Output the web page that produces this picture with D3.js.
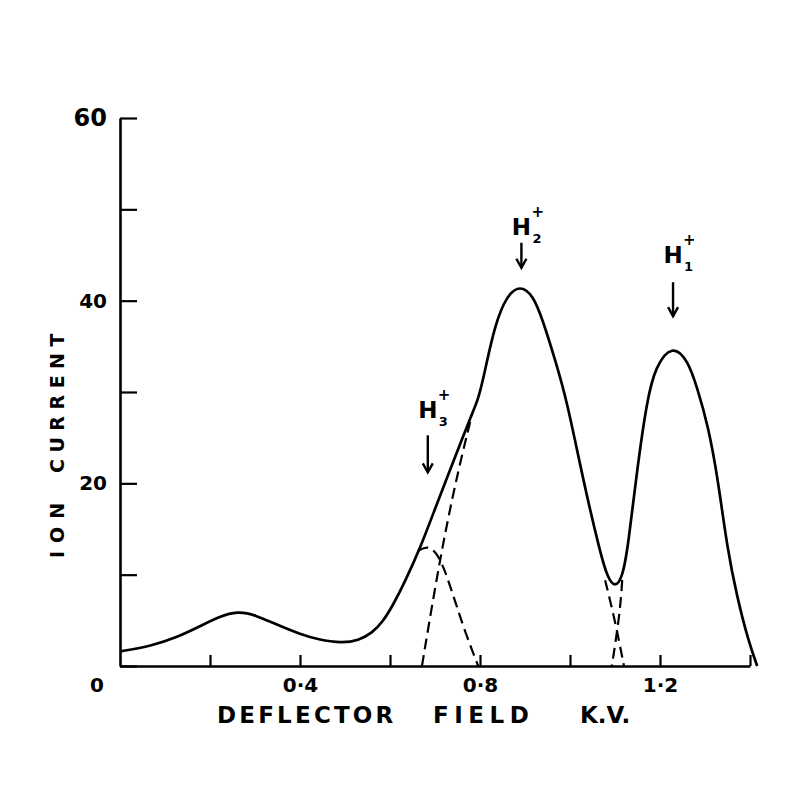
<!DOCTYPE html>
<html>
<head>
<meta charset="utf-8">
<script src="https://d3js.org/d3.v7.min.js"></script>
<style>
  body { margin: 0; background: #fff; }
  text { font-family: "DejaVu Sans", sans-serif; font-weight: bold; fill: #000; }
</style>
</head>
<body>
<div class="viz"></div>
<script>

// measured curve, [field kV, ion current]
var measured = [
  [0, 1.6], [0.07, 2.2], [0.125, 3.1], [0.18, 4.4], [0.22, 5.4], [0.262, 6.0], [0.30, 5.6],
  [0.35, 4.5], [0.40, 3.5], [0.44, 2.9], [0.493, 2.5], [0.53, 2.8], [0.56, 3.6], [0.585, 4.9],
  [0.607, 6.7], [0.633, 9.2], [0.667, 12.9], [0.70, 17.2], [0.728, 20.8], [0.756, 24.3],
  [0.782, 27.6], [0.796, 29.2], [0.808, 31.6], [0.833, 37.4], [0.86, 40.6], [0.889, 41.7],
  [0.918, 40.6], [0.94, 37.8], [0.967, 33.5], [0.993, 29.1], [1.029, 20.4], [1.067, 12.4],
  [1.084, 9.6], [1.10, 8.6], [1.116, 9.6], [1.129, 13.0], [1.149, 21.5], [1.171, 29.1],
  [1.19, 32.8], [1.227, 35.2], [1.262, 33.5], [1.283, 30.4], [1.307, 26.3], [1.329, 20.4],
  [1.349, 13.0], [1.371, 7.6], [1.396, 2.8], [1.416, 0]
];

// resolved components (dashed)
var h3Peak = [[0.662, 12.6], [0.684, 13.2], [0.704, 12.4], [0.722, 10.5], [0.744, 7.2], [0.767, 3.7], [0.796, 0]];
var h2LeftTail = [[0.671, 0], [0.698, 8.0], [0.724, 15.0], [0.752, 21.5], [0.782, 27.5]];
var h2RightTail = [[1.078, 9.4], [1.100, 5.0], [1.120, 0]];
var h1LeftTail = [[1.116, 9.4], [1.111, 5.8], [1.093, 0]];

var xTicks = [0.2, 0.4, 0.6, 0.8, 1.0, 1.2, 1.4];
var xLabelled = [0.4, 0.8, 1.2];
var yTicks = [0, 10, 20, 30, 40, 50, 60];
var yLabelled = [0, 20, 40, 60];

var xTitleWords = ['DEFLECTOR', 'FIELD', 'K.V.'];
var yTitleWords = ['ION', 'CURRENT'];

var peakIons = ['3', '2', '1'];
var peakField = [0.684, 0.892, 1.229];
var peakHeight = [21.2, 43.6, 38.3];

var width = 810, height = 789;

var svg = d3.select('.viz').append('svg')
    .attr('width', width)
    .attr('height', height)
    .style('background', '#fff');

var x = d3.scaleLinear().domain([0, 1.4]).range([120, 750]);
var y = d3.scaleLinear().domain([0, 60]).range([666, 118]);

// axes
var yAxis = d3.axisLeft(y)
    .tickValues(yTicks)
    .tickSizeInner(-17)
    .tickSizeOuter(0)
    .tickPadding(13)
    .tickFormat(function(d) { return yLabelled.indexOf(d) >= 0 ? d : ''; });

var gy = svg.append('g').attr('transform', 'translate(' + x(0) + ',0)').call(yAxis);

var xAxis = d3.axisBottom(x)
    .tickValues(xTicks)
    .tickSizeInner(-11)
    .tickSizeOuter(0)
    .tickPadding(12)
    .tickFormat(function(d) {
      return xLabelled.indexOf(d) >= 0 ? d.toFixed(1).replace('.', '·') : '';
    });

var gx = svg.append('g').attr('transform', 'translate(0,' + y(0) + ')').call(xAxis);

[gx, gy].forEach(function(g) {
  g.selectAll('.domain').attr('stroke', '#000').attr('stroke-width', 2.6);
  g.selectAll('.tick line').attr('stroke', '#000').attr('stroke-width', 2.2);
  g.selectAll('.tick text')
      .style('font-family', '"DejaVu Sans", sans-serif')
      .style('font-weight', 'bold')
      .style('font-size', '20px')
      .attr('fill', '#000');
});

// zero label sits below the origin
gy.selectAll('.tick text').filter(function(d) { return d === 0; })
    .attr('x', -16).attr('y', 19);
gy.selectAll('.tick text').filter(function(d) { return d === 60; })
    .style('font-size', '24px');

// axis titles, hand-lettered look: words spread apart
var xTitleStart = [217, 433, 580];
var xTitleSpacing = [3.2, 5.5, 0];
svg.selectAll('.xtitle')
    .data(xTitleWords)
    .enter().append('text')
    .attr('class', 'xtitle')
    .attr('x', function(d, i) { return xTitleStart[i]; })
    .attr('y', 723)
    .style('font-size', '23px')
    .style('letter-spacing', function(d, i) { return xTitleSpacing[i] + 'px'; })
    .text(function(d) { return d; });

var yTitleStart = [558, 473];
var yTitleSpacing = [8, 6.5];
svg.selectAll('.ytitle')
    .data(yTitleWords)
    .enter().append('text')
    .attr('class', 'ytitle')
    .attr('transform', function(d, i) { return 'translate(64,' + yTitleStart[i] + ') rotate(-90)'; })
    .style('font-size', '19px')
    .style('letter-spacing', function(d, i) { return yTitleSpacing[i] + 'px'; })
    .text(function(d) { return d; });

// curves
var line = d3.line()
    .x(function(d) { return x(d[0]); })
    .y(function(d) { return y(d[1]); })
    .curve(d3.curveBasis);

svg.append('path')
    .datum(measured)
    .attr('d', line)
    .attr('fill', 'none')
    .attr('stroke', '#000')
    .attr('stroke-width', 2.7);

svg.selectAll('.component')
    .data([h3Peak, h2LeftTail, h2RightTail, h1LeftTail])
    .enter().append('path')
    .attr('class', 'component')
    .attr('d', line)
    .attr('fill', 'none')
    .attr('stroke', '#000')
    .attr('stroke-width', 2.2)
    .attr('stroke-dasharray', '11,6');

// peak labels with arrows above each peak
var arrowLen = [37, 25, 34];
var textGap = [17, 8, 19];

var lab = svg.selectAll('.peak').data(peakIons).enter().append('g').attr('class', 'peak');

function tipY(i) { return y(peakHeight[i]); }
function baseY(i) { return tipY(i) - arrowLen[i] - textGap[i]; }

lab.append('text')
    .attr('x', function(d, i) { return x(peakField[i]); })
    .attr('y', function(d, i) { return baseY(i); })
    .attr('text-anchor', 'middle')
    .style('font-size', '23px')
    .text('H');

lab.append('text')
    .attr('x', function(d, i) { return x(peakField[i]) + 11; })
    .attr('y', function(d, i) { return baseY(i) + 8; })
    .style('font-size', '13px')
    .text(function(d) { return d; });

lab.append('text')
    .attr('x', function(d, i) { return x(peakField[i]) + 10; })
    .attr('y', function(d, i) { return baseY(i) - 18; })
    .style('font-size', '15px')
    .text('+');

lab.append('line')
    .attr('x1', function(d, i) { return x(peakField[i]); })
    .attr('x2', function(d, i) { return x(peakField[i]); })
    .attr('y1', function(d, i) { return tipY(i) - arrowLen[i]; })
    .attr('y2', function(d, i) { return tipY(i); })
    .attr('stroke', '#000')
    .attr('stroke-width', 2.4);

lab.append('path')
    .attr('d', function(d, i) {
      var cx = x(peakField[i]), cy = tipY(i);
      return 'M' + (cx - 5) + ',' + (cy - 9) + 'L' + cx + ',' + cy + 'L' + (cx + 5) + ',' + (cy - 9);
    })
    .attr('fill', 'none')
    .attr('stroke', '#000')
    .attr('stroke-width', 2.4);

</script>
</body>
</html>
